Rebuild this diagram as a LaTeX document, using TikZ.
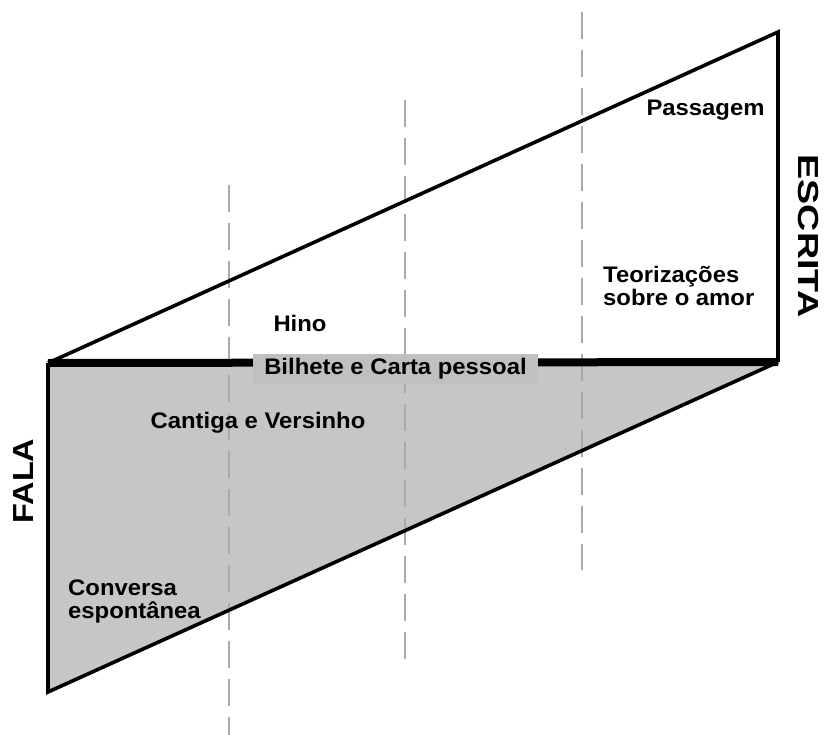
\documentclass[tikz,border=0pt]{standalone}
\usepackage{fontspec}
\setmainfont{Liberation Sans}
\definecolor{regiongrey}{HTML}{C6C6C6}
\definecolor{labelgrey}{HTML}{C0C0C0}
\definecolor{dashgrey}{HTML}{AAAAAA}
\begin{document}
\begin{tikzpicture}[x=1pt,y=-1pt,
  lbl/.style={font=\fontsize{22.5}{24}\selectfont\bfseries, inner sep=0pt, xscale=1.06},
  bigl/.style={font=\fontsize{29}{32}\selectfont\bfseries, inner sep=0pt},
  guide/.style={draw=dashgrey, line width=2.6pt, dash pattern=on 27pt off 11pt},
  edge/.style={line width=3.6pt, line join=miter, line cap=butt},
]
\useasboundingbox (0,0) rectangle (826,735);
% corners
\coordinate (TL) at (48,363);
\coordinate (BL) at (48,692);
\coordinate (TR) at (778,32);
\coordinate (BR) at (778,362);
% grey region
\fill[regiongrey] (TL) -- (BR) -- (BL) -- cycle;
% dashed guides
\coordinate (g1a) at (229,185); \coordinate (g1b) at (229,735);
\coordinate (g2a) at (405,100); \coordinate (g2b) at (405,662);
\coordinate (g3a) at (582,12);  \coordinate (g3b) at (582,570);
\draw[guide] (g1a) -- (g1b);
\draw[guide] (g2a) -- (g2b);
\draw[guide] (g3a) -- (g3b);
% outlines
\draw[edge] (TL) -- (TR) -- (BR);
\draw[edge] (TL) -- (BL) -- (BR);
\draw[line width=8pt, line cap=butt] (TL) -- (BR);
% labels
\node[lbl, fill=labelgrey, minimum width=269pt, minimum height=30pt, inner sep=0pt] (bil) at (395.5,369) {Bilhete e Carta pessoal};
\node[lbl, anchor=base] (pas) at (705.5,116) {Passagem};
\node[lbl, anchor=base west] (teo1) at (603,282) {Teorizações};
\node[lbl, anchor=base west] (teo2) at (603,305) {sobre o amor};
\node[lbl, anchor=base] (hino) at (300,331) {Hino};
\node[lbl, anchor=base] (cant) at (258,428) {Cantiga e Versinho};
\node[lbl, anchor=base west] (con1) at (68,595) {Conversa};
\node[lbl, anchor=base west] (con2) at (68,618) {espontânea};
\node[bigl, rotate=90, xscale=1.12] (fala) at (24,481) {FALA};
\node[bigl, rotate=-90, xscale=1.3] (esc) at (808,236) {ESCRITA};
\end{tikzpicture}
\end{document}
